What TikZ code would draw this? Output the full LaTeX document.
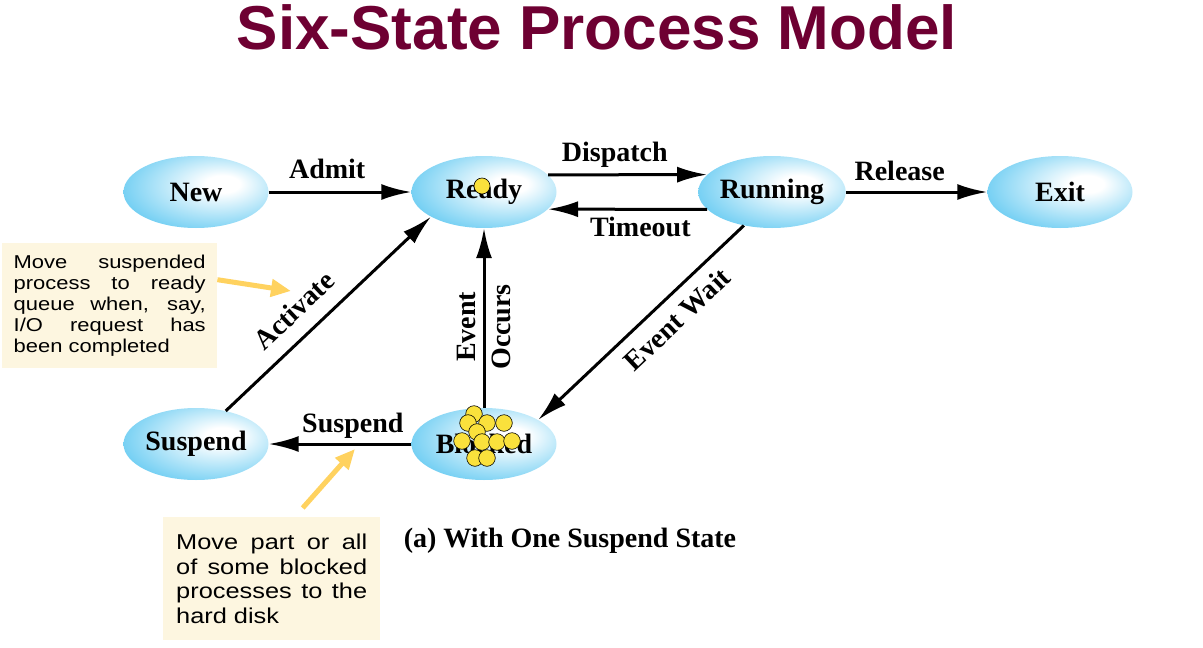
\documentclass[tikz,border=0pt]{standalone}
\usepackage{fontspec}
\setmainfont{Liberation Serif}
\newfontfamily\titlefont{Liberation Sans}
\newfontfamily\notefont[FakeStretch=1.18]{Liberation Sans}
\usetikzlibrary{shapes,arrows.meta,calc}
\definecolor{stateblue}{RGB}{80,195,240}
\definecolor{titlered}{RGB}{110,0,50}
\definecolor{notefill}{RGB}{253,246,224}
\definecolor{hintyellow}{RGB}{255,210,95}
\definecolor{dotyellow}{RGB}{250,225,60}
\pgfdeclareradialshading{procshade}{\pgfpoint{10bp}{6bp}}{color(0bp)=(white); color(6bp)=(white); color(38bp)=(stateblue); color(70bp)=(stateblue)}

\begin{document}
\begin{tikzpicture}[x=1pt,y=-1pt]

  \tikzstyle{proc}=[ellipse,shading=procshade,minimum width=145pt,minimum height=72pt,inner sep=0pt,font=\bfseries\fontsize{28}{30}\selectfont]
  \tikzstyle{trans}=[-{Latex[length=30pt,width=16pt]},line width=3pt]
  \tikzstyle{lbl}=[font=\bfseries\fontsize{28}{30}\selectfont,inner sep=2pt,text depth=6pt]
  \tikzstyle{note}=[fill=notefill,anchor=north west,inner sep=0pt,align=justify]
  \tikzstyle{hint}=[-{Triangle[length=20pt,width=17pt]},line width=5pt,hintyellow]
  \tikzstyle{dot}=[fill=dotyellow,draw=black,line width=0.6pt]

  \useasboundingbox (0,0) rectangle (1203,648);

  \node[anchor=base,text=titlered,font=\titlefont\bfseries\fontsize{62}{70}\selectfont] (title) at (597,49) {Six-State Process Model};

  \node[proc] (New) at (196,192) {New};
  \node[proc] (Ready) at (484,192) {Ready};
  \node[proc] (Running) at (772,192) {Running};
  \node[proc] (Exit) at (1060,192) {Exit};
  \node[proc] (Suspend) at (196,444) {Suspend};
  \node[proc] (Blocked) at (484,444) {Blocked};

  \draw[trans] (New) -- node[lbl,above=4pt,pos=.41] {Admit} (Ready);
  \draw[trans] (Ready.15) -- node[lbl,above=4pt,pos=.42] {Dispatch} (Running.165);
  \draw[trans] (Running.195) -- node[lbl,below=4pt,pos=.42,text depth=0pt] {Timeout} (Ready.-15);
  \draw[trans] (Running) -- node[lbl,above=2pt,pos=.38] {Release} (Exit);
  \draw[trans] (Running.230) -- node[lbl,sloped,below=9pt,pos=.4,text depth=0pt] {Event Wait} (Blocked.24);
  \draw[trans] (Blocked) -- node[lbl,above=2pt,pos=.41] {Suspend} (Suspend);
  \draw[trans] (Suspend.48) -- node[lbl,sloped,above=7pt,pos=.42] {Activate} (Ready.205);
  \draw[trans] (Blocked.north) -- node[lbl,rotate=90,pos=.45,align=center,text depth=0pt,font=\bfseries\fontsize{28}{35}\selectfont] {Event\\Occurs} (Ready.south);

  % processes waiting in the queues
  \draw[dot] (482,186) circle (8);
  \foreach \x/\y in {474/414,468/423,487/423,504/423,477/432,462/441,482/442,497/442,512/441,475/458,487/458}
    \draw[dot] (\x,\y) circle (8.3);

  \node[note,minimum width=215pt,minimum height=125pt,text width=192pt,font=\notefont\fontsize{18.6}{21.2}\selectfont] (note1) at (2,243)
    {Move suspended process to ready queue when, say, I/O request has been completed};
  \node[note,minimum width=217pt,minimum height=123pt,text width=191pt,font=\notefont\fontsize{21.5}{24.5}\selectfont] (note2) at (163,517)
    {Move part or all of some blocked processes to the hard disk};

  \draw[hint] ([yshift=26pt]note1.east) -- (291,291);
  \draw[hint] ([xshift=31pt,yshift=9pt]note2.north) -- (355,449);

  \node[anchor=base,font=\bfseries\fontsize{28}{30}\selectfont] (caption) at (570,547) {(a) With One Suspend State};
\end{tikzpicture}
\end{document}
